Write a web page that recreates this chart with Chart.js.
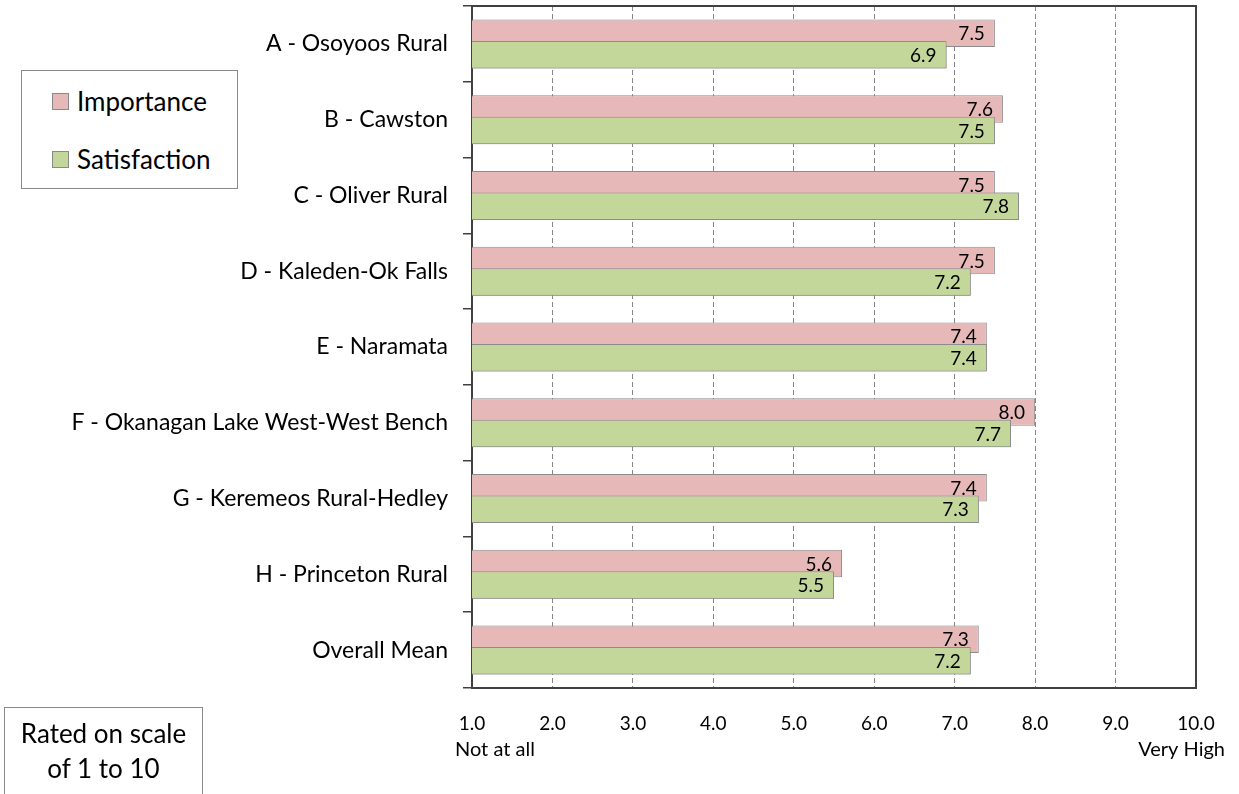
<!DOCTYPE html>
<html lang="en">
<head>
  <meta charset="UTF-8" />
  <title>Importance and Satisfaction by Area</title>
  <script src="https://cdn.jsdelivr.net/npm/chart.js"></script>
  <style>
    html, body { margin: 0; padding: 0; background: #fff; }
    body { width: 1239px; height: 794px; position: relative; overflow: hidden; font-family: Lato, "Open Sans", sans-serif; color: #000; }
    #chart { position: absolute; left: 0; top: 0; }
    .legend-box { position: absolute; left: 21px; top: 70px; width: 215px; height: 117px; border: 1px solid #8a8a8a; background: #fff; }
    .legend-item { position: absolute; left: 30px; height: 30px; display: flex; align-items: center; font-size: 26px; }
    .swatch { width: 15px; height: 15px; border: 1px solid #8a8a8a; margin-right: 8px; }
    .note-box { position: absolute; left: 4px; top: 707px; width: 199px; height: 120px; border: 1px solid #8a8a8a; text-align: center; font-size: 26px; line-height: 35px; padding-top: 8px; box-sizing: border-box; }
  </style>
</head>
<body>

  <canvas id="chart" width="1239" height="794"></canvas>

  <!-- Legend -->
  <div class="legend-box" id="legend"></div>

  <!-- Scale note -->
  <div class="note-box">Rated on scale<br>of 1 to 10</div>

  <script>
    // Data
    const categories = [
      'A - Osoyoos Rural',
      'B - Cawston',
      'C - Oliver Rural',
      'D - Kaleden-Ok Falls',
      'E - Naramata',
      'F - Okanagan Lake West-West Bench',
      'G - Keremeos Rural-Hedley',
      'H - Princeton Rural',
      'Overall Mean'
    ];
    const importance   = [7.5, 7.6, 7.5, 7.5, 7.4, 8.0, 7.4, 5.6, 7.3];
    const satisfaction = [6.9, 7.5, 7.8, 7.2, 7.4, 7.7, 7.3, 5.5, 7.2];
    const seriesNames  = ['Importance', 'Satisfaction'];
    const scaleMin = 1;
    const scaleMax = 10;
    const scaleEnds = ['Not at all', 'Very High'];

    const pink = '#E6B9B8';
    const green = '#C4D79B';
    const edge = '#8c8c8c';
    const axisColor = '#404040';

    // overlap order, value labels, frame and end captions
    const extras = {
      id: 'extras',
      afterDatasetsDraw(chart) {
        const ctx = chart.ctx;
        const a = chart.chartArea;
        // the second series sits over the first where they overlap
        ctx.save();
        ctx.beginPath();
        ctx.rect(a.left, a.top, a.right - a.left, a.bottom - a.top);
        ctx.clip();
        chart.getDatasetMeta(1).data.forEach(bar => bar.draw(ctx));
        ctx.restore();

        ctx.save();
        ctx.font = '19px Lato';
        ctx.fillStyle = '#000';
        ctx.textAlign = 'right';
        ctx.textBaseline = 'middle';
        chart.data.datasets.forEach((ds, i) => {
          chart.getDatasetMeta(i).data.forEach((bar, j) => {
            ctx.fillText(ds.data[j].toFixed(1), bar.x - 10, bar.y + 1);
          });
        });
        ctx.restore();
      },
      afterDraw(chart) {
        const { ctx, chartArea: a, scales: { x } } = chart;
        ctx.save();
        ctx.strokeStyle = axisColor;
        ctx.lineWidth = 2;
        ctx.beginPath();
        ctx.moveTo(a.left, a.top);
        ctx.lineTo(a.right, a.top);
        ctx.lineTo(a.right, a.bottom);
        ctx.stroke();

        ctx.font = '20px Lato';
        ctx.fillStyle = '#000';
        ctx.textBaseline = 'middle';
        ctx.textAlign = 'left';
        ctx.fillText(scaleEnds[0], x.getPixelForValue(scaleMin) - 17, a.bottom + 62);
        ctx.textAlign = 'right';
        ctx.fillText(scaleEnds[1], x.getPixelForValue(scaleMax) + 29, a.bottom + 62);
        ctx.restore();
      }
    };

    const chart = new Chart(document.getElementById('chart').getContext('2d'), {
      type: 'bar',
      data: {
        labels: categories,
        datasets: [
          { label: seriesNames[0], data: importance, backgroundColor: pink },
          { label: seriesNames[1], data: satisfaction, backgroundColor: green }
        ]
      },
      options: {
        indexAxis: 'y',
        responsive: false,
        animation: false,
        datasets: {
          bar: {
            borderColor: edge,
            borderWidth: 1,
            borderSkipped: false,
            categoryPercentage: 0.567,
            barPercentage: 1.28
          }
        },
        layout: { padding: { top: 6, right: 43, left: 0, bottom: 0 } },
        plugins: {
          legend: { display: false },
          tooltip: { enabled: false }
        },
        scales: {
          x: {
            min: scaleMin,
            max: scaleMax,
            ticks: {
              stepSize: 1,
              autoSkip: false,
              maxRotation: 0,
              padding: 24,
              color: '#000',
              font: { family: 'Lato', size: 19 },
              callback: v => Number(v).toFixed(1)
            },
            grid: {
              drawTicks: false,
              lineWidth: 1,
              color: c => (c.tick && (c.tick.value === scaleMin || c.tick.value === scaleMax)) ? 'rgba(0,0,0,0)' : '#858585'
            },
            border: { display: true, color: axisColor, width: 2, dash: [5, 3] },
            afterFit: s => { s.height = 106; s.paddingLeft = 0; s.paddingRight = 0; }
          },
          y: {
            ticks: {
              padding: 15,
              color: '#000',
              font: { family: 'Lato', size: 23 }
            },
            grid: {
              drawOnChartArea: false,
              drawTicks: true,
              tickLength: 9,
              lineWidth: 1.5,
              color: axisColor
            },
            border: { display: true, color: axisColor, width: 2 },
            afterFit: s => { s.width = 472; s.paddingTop = 0; s.paddingBottom = 0; }
          }
        }
      },
      plugins: [extras]
    });

    // HTML legend built from the datasets
    const legend = document.getElementById('legend');
    chart.data.datasets.forEach((ds, i) => {
      const item = document.createElement('div');
      item.className = 'legend-item';
      item.style.top = (15 + i * 58) + 'px';
      const sw = document.createElement('span');
      sw.className = 'swatch';
      sw.style.background = ds.backgroundColor;
      item.appendChild(sw);
      item.appendChild(document.createTextNode(ds.label));
      legend.appendChild(item);
    });
  </script>
</body>
</html>
